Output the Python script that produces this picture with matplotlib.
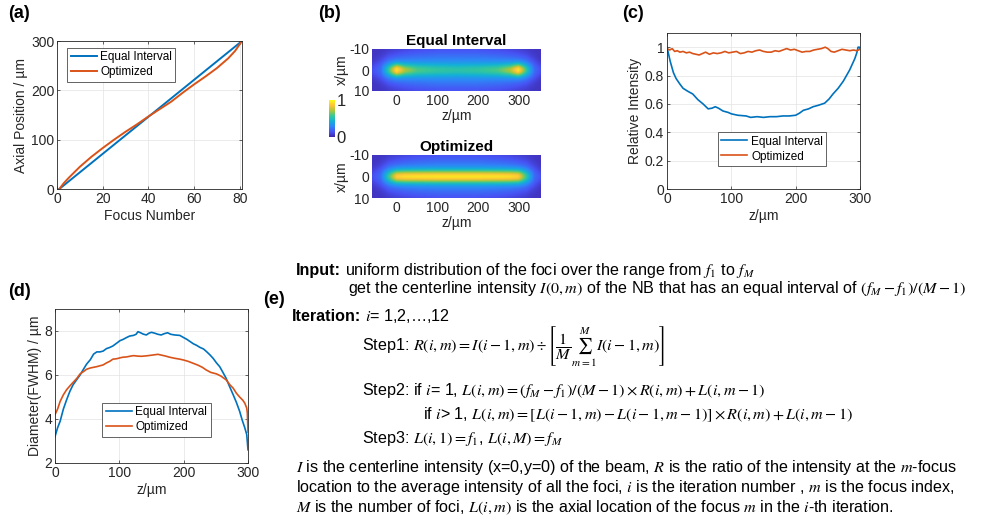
import numpy as np
import matplotlib
matplotlib.use("Agg")
import matplotlib.pyplot as plt
from matplotlib.colors import LinearSegmentedColormap

# ---- data ----
# (a) axial position of each focus
focus_eq = [1, 81]
axial_eq = [0, 300]
focus_opt = [1, 3, 5, 10, 15, 20, 25, 30, 35, 40, 45, 50, 55, 60, 65, 70, 75, 78, 81]
axial_opt = [0, 12, 22, 45, 65, 83, 100, 116, 131, 147, 162, 177, 195, 212, 228, 245, 265, 280, 300]

# (c) relative centerline intensity
z_int_eq = [0, 5, 10, 14, 20, 25, 32, 40, 48, 56, 64, 70, 75, 80, 87, 95, 100, 110, 123, 130,
            140, 150, 160, 170, 180, 190, 200, 206, 212, 220, 227, 235, 245, 252, 258, 266,
            274, 279, 284, 288, 292, 295, 297, 299, 300]
int_eq = [1.0, 0.9, 0.82, 0.78, 0.74, 0.71, 0.69, 0.67, 0.63, 0.6, 0.565, 0.57, 0.58, 0.57, 0.55,
          0.54, 0.53, 0.52, 0.515, 0.505, 0.51, 0.505, 0.51, 0.51, 0.515, 0.515, 0.52, 0.535, 0.555,
          0.565, 0.58, 0.59, 0.605, 0.635, 0.67, 0.71, 0.76, 0.8, 0.84, 0.88, 0.92, 0.96, 1.0,
          1.0, 0.99]
z_int_opt = [0, 4, 8, 12, 16, 20, 25, 30, 35, 40, 45, 50, 55, 60, 66, 72, 78, 84, 90, 96, 102,
             108, 114, 120, 126, 132, 138, 144, 150, 156, 162, 168, 174, 180, 186, 192, 198, 204,
             210, 216, 222, 228, 234, 240, 246, 250, 255, 260, 266, 272, 278, 284, 290, 295, 300]
int_opt = [0.99, 0.98, 0.99, 0.97, 0.975, 0.965, 0.97, 0.96, 0.965, 0.955, 0.95, 0.945, 0.955, 0.965,
           0.95, 0.96, 0.955, 0.96, 0.97, 0.96, 0.965, 0.97, 0.955, 0.96, 0.97, 0.965, 0.975, 0.98,
           0.97, 0.965, 0.965, 0.975, 0.97, 0.98, 0.99, 0.98, 0.985, 0.975, 0.965, 0.97, 0.97, 0.98,
           0.985, 0.99, 1.0, 0.99, 0.97, 0.965, 0.975, 0.985, 0.98, 0.975, 0.98, 0.975, 0.985]

# (d) beam diameter (FWHM)
z_fw_eq = [0, 4, 8, 13, 18, 23, 28, 34, 39, 44, 49, 55, 60, 65, 70, 75, 80, 85, 90, 96, 101, 106,
           111, 116, 122, 126, 129, 133, 137, 142, 146, 150, 155, 160, 165, 170, 175, 180, 186,
           194, 200, 205, 210, 215, 220, 225, 231, 236, 241, 246, 251, 256, 261, 266, 271, 277,
           282, 287, 291, 295, 298, 300]
fw_eq = [3.2, 3.6, 3.9, 4.45, 4.87, 5.25, 5.55, 5.8, 6.0, 6.25, 6.49, 6.7, 6.95, 7.05, 7.05, 7.09,
         7.2, 7.25, 7.32, 7.45, 7.56, 7.62, 7.7, 7.77, 7.8, 7.85, 7.97, 7.92, 7.86, 7.82, 7.9, 7.94,
         7.9, 7.85, 7.82, 7.88, 7.92, 7.85, 7.82, 7.8, 7.7, 7.62, 7.52, 7.42, 7.35, 7.26, 7.18, 7.05,
         6.91, 6.75, 6.55, 6.38, 6.12, 5.85, 5.5, 5.1, 4.75, 4.35, 3.95, 3.6, 3.3, 2.6]
z_fw_opt = [0, 4, 8, 13, 18, 23, 28, 34, 39, 44, 49, 55, 60, 65, 70, 75, 80, 85, 90, 96, 101, 106,
            111, 116, 122, 128, 134, 142, 150, 155, 160, 166, 172, 178, 186, 194, 200, 207, 215,
            222, 229, 235, 242, 251, 258, 266, 272, 277, 282, 287, 292, 295, 298, 299, 300]
fw_opt = [4.2, 4.45, 4.8, 5.1, 5.33, 5.5, 5.66, 5.85, 6.05, 6.15, 6.26, 6.32, 6.35, 6.38, 6.42,
          6.46, 6.55, 6.62, 6.72, 6.74, 6.78, 6.81, 6.82, 6.85, 6.88, 6.86, 6.85, 6.87, 6.9, 6.92,
          6.94, 6.9, 6.86, 6.81, 6.76, 6.72, 6.68, 6.62, 6.53, 6.45, 6.35, 6.23, 6.12, 6.05, 5.95,
          5.78, 5.55, 5.4, 5.17, 5.0, 4.85, 4.72, 4.5, 4.27, 3.4]

# (b) beam maps: on-axis value and halo along z
heat_z = [-60, -40, -20, 0, 20, 50, 100, 150, 200, 250, 280, 300, 320, 340, 355]
center_eq = [0.12, 0.2, 0.55, 0.95, 0.72, 0.6, 0.55, 0.53, 0.55, 0.6, 0.72, 0.95, 0.55, 0.2, 0.12]
center_opt = [0.12, 0.2, 0.55, 0.88, 0.92, 0.93, 0.94, 0.94, 0.94, 0.93, 0.92, 0.88, 0.55, 0.2, 0.12]
halo_amp = [0.08, 0.16, 0.27, 0.3, 0.3, 0.3, 0.3, 0.3, 0.3, 0.3, 0.3, 0.3, 0.27, 0.16, 0.08]
halo_sig = [2.5, 3.5, 4.5, 5.0, 5.5, 6.0, 6.5, 6.5, 6.5, 6.0, 5.5, 5.0, 4.5, 3.5, 2.5]

BLUE = "#0072BD"
ORANGE = "#D95319"
INK = "#262626"
W, H = 995, 521

parula = LinearSegmentedColormap.from_list("parula", [
    (0.2422, 0.1504, 0.6603), (0.2810, 0.3228, 0.9579), (0.1786, 0.5289, 0.9682),
    (0.0689, 0.6948, 0.8394), (0.2161, 0.7843, 0.5923), (0.6720, 0.7793, 0.2227),
    (0.9970, 0.7659, 0.2199), (0.9769, 0.9839, 0.0805)])

plt.rcParams["font.family"] = ["Liberation Sans", "DejaVu Sans"]
plt.rcParams["mathtext.fontset"] = "stix"
plt.rcParams["axes.unicode_minus"] = False
plt.rcParams["axes.edgecolor"] = INK
plt.rcParams["axes.linewidth"] = 0.6
plt.rcParams["xtick.color"] = INK
plt.rcParams["ytick.color"] = INK
plt.rcParams["xtick.direction"] = "in"
plt.rcParams["ytick.direction"] = "in"
plt.rcParams["xtick.major.size"] = 2.5
plt.rcParams["ytick.major.size"] = 2.5
plt.rcParams["xtick.major.width"] = 0.5
plt.rcParams["ytick.major.width"] = 0.5
plt.rcParams["font.size"] = 10


def px_axes(fig, x0, y0, x1, y1):
    return fig.add_axes([x0 / W, 1 - y1 / H, (x1 - x0) / W, (y1 - y0) / H])


def style(ax):
    ax.grid(True, color="#e3e3e3", lw=0.5)
    ax.set_axisbelow(True)
    ax.tick_params(labelsize=10, labelcolor=INK, pad=2, top=True, right=True)


def legend(ax, anchor, loc):
    lg = ax.legend(fancybox=False, framealpha=1, edgecolor=INK, fontsize=8.5, loc=loc,
                   bbox_to_anchor=anchor, borderaxespad=0, handlelength=2.2, borderpad=0.3,
                   labelspacing=0.25, handletextpad=0.3)
    lg.get_frame().set_linewidth(0.5)


fig = plt.figure(figsize=(W / 100, H / 100), dpi=100)

# (a)
ax = px_axes(fig, 57, 41, 242, 189)
ax.plot(focus_eq, axial_eq, color=BLUE, lw=1.4, label="Equal Interval")
ax.plot(focus_opt, axial_opt, color=ORANGE, lw=1.4, label="Optimized")
ax.set_xlim(0, 81)
ax.set_ylim(0, 300)
ax.set_xticks([0, 20, 40, 60, 80])
ax.set_yticks([0, 100, 200, 300])
ax.set_xlabel("Focus Number", color=INK, labelpad=2)
ax.set_ylabel("Axial Position / µm", color=INK, labelpad=2)
style(ax)
legend(ax, (0.054, 0.953), "upper left")

# (b)
zz = np.linspace(heat_z[0], heat_z[-1], 300)
xx = np.linspace(-10, 10, 120)
hs = np.interp(zz, heat_z, halo_sig)
ha = np.interp(zz, heat_z, halo_amp)
maps = []
for center in (center_eq, center_opt):
    cz = np.clip(np.interp(zz, heat_z, center) - 0.05 - ha, 0, None)
    img = 0.05 + ha[None, :] * np.exp(-xx[:, None] ** 2 / (2 * hs[None, :] ** 2)) \
        + cz[None, :] * np.exp(-xx[:, None] ** 2 / (2 * 2.1 ** 2))
    maps.append(np.clip(img, 0, 1))

for (y0, y1), img, title in zip([(49, 91), (155, 198)], maps, ["Equal Interval", "Optimized"]):
    ax = px_axes(fig, 372, y0, 541, y1)
    im = ax.imshow(img, cmap=parula, vmin=0, vmax=1, aspect="auto", origin="lower",
                   extent=(heat_z[0], heat_z[-1], -10, 10), interpolation="bilinear")
    ax.set_ylim(10, -10)
    ax.set_xticks([0, 100, 200, 300])
    ax.set_yticks([-10, 0, 10])
    ax.tick_params(labelsize=10, labelcolor=INK, pad=2, length=0)
    ax.set_xlabel("z/µm", color=INK, labelpad=1)
    ax.set_ylabel("x/µm", color=INK, labelpad=0)
    ax.set_title(title, fontsize=11, fontweight="bold", color="black", pad=3)
    for s in ax.spines.values():
        s.set_visible(False)

cax = px_axes(fig, 329, 100, 335, 137)
cb = fig.colorbar(im, cax=cax, ticks=[0, 1])
cb.outline.set_visible(False)
cb.ax.tick_params(labelsize=12, length=0, pad=1)
cb.ax.set_yticklabels(["0", "1"])

# (c)
ax = px_axes(fig, 667, 33, 860, 189)
ax.plot(z_int_eq, int_eq, color=BLUE, lw=1.2, label="Equal Interval")
ax.plot(z_int_opt, int_opt, color=ORANGE, lw=1.2, label="Optimized")
ax.set_xlim(0, 300)
ax.set_ylim(0, 1.1)
ax.set_xticks([0, 100, 200, 300])
ax.set_yticks([0, 0.2, 0.4, 0.6, 0.8, 1])
ax.set_yticklabels(["0", "0.2", "0.4", "0.6", "0.8", "1"])
ax.set_xlabel("z/µm", color=INK, labelpad=2)
ax.set_ylabel("Relative Intensity", color=INK, labelpad=2)
style(ax)
legend(ax, (0.264, 0.147), "lower left")

# (d)
ax = px_axes(fig, 55, 309, 248, 463)
ax.plot(z_fw_eq, fw_eq, color=BLUE, lw=1.2, label="Equal Interval")
ax.plot(z_fw_opt, fw_opt, color=ORANGE, lw=1.2, label="Optimized")
ax.set_xlim(0, 300)
ax.set_ylim(2, 9)
ax.set_xticks([0, 100, 200, 300])
ax.set_yticks([2, 4, 6, 8])
ax.set_xlabel("z/µm", color=INK, labelpad=2)
ax.set_ylabel("Diameter(FWHM) / µm", color=INK, labelpad=2)
style(ax)
legend(ax, (0.244, 0.169), "lower left")

# panel letters
for x, y, s in [(8, 14, "(a)"), (318, 14, "(b)"), (622, 14, "(c)"), (8, 292, "(d)"), (263, 300, "(e)")]:
    fig.text(x / W, 1 - y / H, s, fontsize=13, fontweight="bold", va="center", ha="left")

# (e) algorithm text
TF = ["Liberation Sans", "DejaVu Sans"]
FS = 11.6
renderer = fig.canvas.get_renderer()


def t(x, y, s, **kw):
    return fig.text(x / W, 1 - y / H, s, fontsize=FS, family=TF, va="baseline", ha="left", **kw)


def after(txt, gap=4):
    # pixel x just right of an already placed text
    return txt.get_window_extent(renderer).x1 + gap


lab = t(296, 275, "Input:", fontweight="bold")
t(after(lab), 275, r"uniform distribution of the foci over the range from $f_1$ to $f_M$")
t(348, 293, r"get the centerline intensity $I(0, m)$ of the NB that has an equal interval of $(f_M - f_1)/(M-1)$")
lab = t(292, 321, "Iteration:", fontweight="bold")
t(after(lab), 321, r"$i$= 1,2,…,12")
t(362, 350, r"Step1: $R(i,m) = I(i-1,m) \div \left[\dfrac{1}{M}\sum_{m=1}^{M} I(i-1,m)\right]$")
t(362, 395, r"Step2: if $i$= 1, $L(i,m) = (f_M - f_1)/(M-1) \times R(i,m) + L(i,m-1)$")
t(423, 419, r"if $i$> 1, $L(i,m) = [L(i-1,m) - L(i-1,m-1)] \times R(i,m) + L(i,m-1)$")
t(362, 443, r"Step3: $L(i,1) = f_1$, $L(i,M) = f_M$")
t(296, 472, r"$I$ is the centerline intensity (x=0,y=0) of the beam, $R$ is the ratio of the intensity at the $m$-focus")
t(296, 492, r"location to the average intensity of all the foci, $i$ is the iteration number , $m$ is the focus index,")
t(296, 512, r"$M$ is the number of foci, $L(i,m)$ is the axial location of the focus $m$ in the $i$-th iteration.")

fig.savefig("out.png", dpi=100)
